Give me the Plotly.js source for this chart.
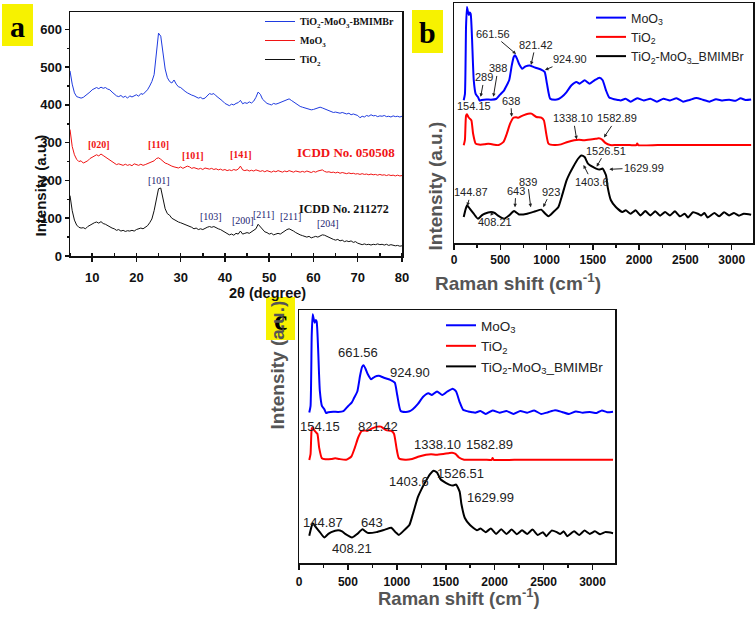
<!DOCTYPE html>
<html><head><meta charset="utf-8">
<script src="https://cdn.plot.ly/plotly-3.0.1.min.js"></script>
<style>html,body{margin:0;padding:0;background:#fff}#chart{width:756px;height:620px}</style>
</head><body><div id="chart"></div>
<script>
// ---------- Panel a : XRD ----------
const xrdTwoTheta = [
5,5.5,6,6.5,7,7.5,8,8.5,9,9.5,
10,10.5,11,11.5,12,12.5,13,13.5,14,14.5,
15,15.5,16,16.5,17,17.5,18,18.5,19,19.5,
20,20.5,21,21.5,22,22.5,23,23.5,24,24.5,
25,25.5,26,26.5,27,27.5,28,28.5,29,29.5,
30,30.5,31,31.5,32,32.5,33,33.5,34,34.5,
35,35.5,36,36.5,37,37.5,38,38.5,39,39.5,
40,40.5,41,41.5,42,42.5,43,43.5,44,44.5,
45,45.5,46,46.5,47,47.5,48,48.5,49,49.5,
50,50.5,51,51.5,52,52.5,53,53.5,54,54.5,
55,55.5,56,56.5,57,57.5,58,58.5,59,59.5,
60,60.5,61,61.5,62,62.5,63,63.5,64,64.5,
65,65.5,66,66.5,67,67.5,68,68.5,69,69.5,
70,70.5,71,71.5,72,72.5,73,73.5,74,74.5,
75,75.5,76,76.5,77,77.5,78,78.5,79,79.5,
80];
const xrdComposite = [
490,455,432,422,420,418,420,424,428,434,
440,444,446,443,447,444,446,442,440,434,
428,424,422,425,420,423,418,424,421,425,
427,423,430,428,434,440,450,462,480,530,
590,582,540,495,472,462,458,466,455,448,
446,440,436,432,428,426,424,421,418,420,
416,418,425,430,428,430,424,420,416,410,
404,400,398,402,400,404,406,412,403,406,
404,408,405,410,420,434,428,415,408,404,
402,400,404,402,404,406,408,412,414,416,
412,408,402,398,396,394,392,390,388,387,
388,390,392,394,392,390,386,384,383,380,
381,379,378,380,377,376,378,374,376,373,
372,366,370,368,372,370,374,371,372,369,
371,370,372,369,370,368,371,369,370,368,
370];
const xrdMoO3 = [
335,290,268,256,250,252,246,248,252,258,
262,266,268,265,270,266,262,258,252,248,
245,242,244,241,240,243,240,242,239,244,
241,240,243,240,242,244,246,248,252,258,
260,256,250,246,244,240,238,236,234,233,
236,232,235,238,236,232,234,231,230,232,
229,233,231,230,232,229,231,228,230,227,
229,226,228,226,229,227,230,238,228,226,
228,225,227,225,228,226,224,226,223,226,
224,222,225,223,226,224,222,225,223,226,
224,222,225,223,222,224,222,225,223,221,
224,222,225,226,228,224,222,223,221,222,
220,222,219,221,220,218,220,218,219,217,
218,216,218,216,217,215,217,215,216,214,
216,214,215,213,215,213,214,212,214,212,
213];
const xrdTiO2 = [
160,120,95,82,76,74,75,72,78,82,
85,88,90,87,91,86,84,80,76,74,
72,68,70,66,68,65,67,66,68,66,
70,72,74,72,76,80,88,98,120,150,
178,180,150,125,112,108,100,96,94,90,
88,86,82,80,78,76,72,74,70,72,
70,74,76,78,76,78,74,72,70,66,
62,58,56,58,55,60,58,66,58,60,
62,60,64,66,72,84,78,70,64,62,
58,60,56,58,60,58,62,68,70,72,
70,66,62,58,56,54,52,50,52,48,
50,52,50,54,56,55,52,48,46,44,
42,44,40,42,38,40,38,40,36,38,
34,32,30,32,30,31,29,31,30,32,
30,31,29,31,28,30,28,27,28,26,
27];
const xrdNames = ['TiO<sub>2</sub>-MoO<sub>3</sub>-BMIMBr','MoO<sub>3</sub>','TiO<sub>2</sub>'];
const moo3Planes = ['[020]','[110]','[101]','[141]'];
const moo3PlaneAngles = [11.5, 24.9, 32.8, 43.6];
const tio2Planes = ['[101]','[103]','[200]','[211]','[211]','[204]'];
const tio2PlaneAngles = [25.2, 36.8, 44.1, 48.6, 54.7, 63.3];
const moo3Card = 'ICDD No. 050508';
const tio2Card = 'ICDD No. 211272';

// ---------- Panels b and c : Raman ----------
const ramanMoO3Shift = [105,118,130,140,150,160,170,180,195,213,235,259,277,300,350,400,454,490,507,540,560,596,624,645,660,680,702,738,773,816,862,900,933,979,1004,1039,1092,1130,1163,1216,1269,1323,1358,1411,1465,1518,1571,1606,1642,1677,1730,1770,1801,1854,1908,1979,2050,2121,2192,2262,2333,2404,2475,2546,2617,2688,2759,2830,2901,2972,3043,3096,3149,3210];
const ramanMoO3Int = [59.5,62,90,98.3,96.5,95,96,95.5,85,68,62,60.8,59.3,59.6,59.8,59.7,60,61.5,62.2,63.5,65,67.8,74,77.5,78.2,76.8,74.7,72.6,73.6,74,73.3,72.8,72.4,71.3,66.4,60.1,59.7,60,60.8,62.9,65.7,67.1,66.4,67.8,66.4,67.8,68.9,67.8,63.6,60.6,59.9,59.6,59.4,60.1,58.9,60.3,59.4,60.1,58.9,60.1,59.4,60.3,58.9,59.6,60.4,59.7,58.9,59.9,59.4,59.7,59.3,60.3,59.6,59.8];
const ramanTiO2Shift = [105,118,130,140,155,170,188,206,234,270,330,370,412,482,535,571,606,642,670,695,748,801,837,890,943,971,996,1021,1085,1156,1227,1298,1350,1404,1475,1530,1564,1600,1635,1688,1750,1900,1970,1979,1990,2200,2500,2800,3210];
const ramanTiO2Int = [40.7,43,53,53.6,52.5,51.8,51.1,45.6,41.4,41,41.1,41.4,41.1,40.8,42.1,45.6,49.7,52.2,52.4,52.2,53.2,53.9,53.9,52.5,52.2,51.1,45.6,41.4,40.8,41.1,42.1,42.8,43,42.8,43.1,43.4,43.6,43.1,41.7,40.8,40.8,40.8,40.8,41.5,40.8,40.8,40.8,40.8,40.8];
const ramanCompShift = [105,125,142,170,213,259,300,330,400,440,472,543,596,649,702,791,879,943,986,1021,1074,1128,1163,1216,1250,1287,1340,1376,1411,1447,1500,1535,1571,1606,1642,1660,1695,1748,1819,1855,1908,1961,2014,2067,2121,2174,2227,2280,2333,2387,2440,2493,2528,2582,2635,2670,2706,2741,2812,2865,2918,2972,3025,3078,3130,3210];
const ramanCompInt = [10.8,14,15.7,14.3,12.2,10.1,11.5,12.2,12.9,12.5,11.5,10.1,11.5,13.3,11.9,12.2,13.2,13.9,12.2,11.1,12.9,15,19.2,26.1,29,31.7,35.1,36.5,35.8,33.1,31.7,31,30.6,31,28.2,23.3,17.8,15,12.9,13.6,12.2,13.6,11.5,13.3,11.5,13.2,11.4,12.9,11.5,13.2,11.1,12.2,10.6,12.8,12.2,11.5,12.5,10.6,12.5,11.1,12.8,11.5,12.5,11.4,12.2,11.8];
const ramanNames = ['MoO<sub>3</sub>','TiO<sub>2</sub>','TiO<sub>2</sub>-MoO<sub>3</sub>_BMIMBr'];
const ramanPeakLabelsB = ['661.56','821.42','924.90','289','388','154.15','638','1338.10','1582.89','1526.51','1629.99','1403.6','144.87','643','839','923','408.21'];
const ramanPeakLabelsC = ['661.56','924.90','154.15','821.42','1338.10','1582.89','1403.6','1526.51','1629.99','144.87','643','408.21'];

// ---------- layout helpers ----------
const W = 756, H = 620;
const fx = p => p / W, fy = p => 1 - p / H;
const SANS = 'Liberation Sans, Arial, sans-serif';
const SERIF = 'Liberation Serif, Times New Roman, serif';

const traces = [
  {x: xrdTwoTheta, y: xrdComposite, name: xrdNames[0], xaxis:'x', yaxis:'y', legend:'legend', mode:'lines', line:{color:'#1f3be0', width:1}},
  {x: xrdTwoTheta, y: xrdMoO3, name: xrdNames[1], xaxis:'x', yaxis:'y', legend:'legend', mode:'lines', line:{color:'#f01414', width:1}},
  {x: xrdTwoTheta, y: xrdTiO2, name: xrdNames[2], xaxis:'x', yaxis:'y', legend:'legend', mode:'lines', line:{color:'#111111', width:1}}
];
[['x2','y2','legend2'],['x3','y3','legend3']].forEach(([xa, ya, lg]) => {
  traces.push({x: ramanMoO3Shift, y: ramanMoO3Int, name: ramanNames[0], xaxis:xa, yaxis:ya, legend:lg, mode:'lines', line:{color:'#0000ff', width:2, shape:'spline', smoothing:0.5}});
  traces.push({x: ramanTiO2Shift, y: ramanTiO2Int, name: ramanNames[1], xaxis:xa, yaxis:ya, legend:lg, mode:'lines', line:{color:'#ff0000', width:2, shape:'spline', smoothing:0.5}});
  traces.push({x: ramanCompShift, y: ramanCompInt, name: ramanNames[2], xaxis:xa, yaxis:ya, legend:lg, mode:'lines', line:{color:'#000000', width:2, shape:'spline', smoothing:0.5}});
});

const boxAxis = {showline:true, mirror:true, linecolor:'#111', linewidth:1.5, showgrid:false, zeroline:false, tickcolor:'#111', tickwidth:1.5};

const layout = {
  width: W, height: H, margin:{l:0,r:0,t:0,b:0}, paper_bgcolor:'#fff', plot_bgcolor:'#fff',
  showlegend: true,
  xaxis: Object.assign({}, boxAxis, {domain:[fx(70), fx(402)], range:[5,80], anchor:'y', tick0:0, dtick:10, ticks:'outside', ticklen:4, ticklabelstandoff:5,
    tickfont:{family:SANS, size:13, weight:'bold', color:'#111'}, minor:{ticks:'inside', dtick:5, ticklen:3, tickcolor:'#111'}}),
  yaxis: Object.assign({}, boxAxis, {domain:[fy(256), fy(12)], range:[0,646], anchor:'x', dtick:100, ticks:'outside', ticklen:4,
    tickfont:{family:SANS, size:13, weight:'bold', color:'#111'}, minor:{ticks:'outside', dtick:50, ticklen:2, tickcolor:'#111'}}),
  xaxis2: Object.assign({}, boxAxis, {domain:[fx(454), fx(753)], range:[0,3230], anchor:'y2', dtick:500, ticks:'outside', ticklen:5,
    tickfont:{family:SANS, size:12, weight:'bold', color:'#111'}, minor:{ticks:'outside', dtick:250, ticklen:3, tickcolor:'#111'}}),
  yaxis2: Object.assign({}, boxAxis, {domain:[fy(243), fy(3)], range:[0,100], anchor:'x2', showticklabels:false, ticks:''}),
  xaxis3: Object.assign({}, boxAxis, {domain:[fx(299), fx(615)], range:[0,3230], anchor:'y3', dtick:500, ticks:'outside', ticklen:5, ticklabelstandoff:2,
    tickfont:{family:SANS, size:12, weight:'bold', color:'#111'}, minor:{ticks:'outside', dtick:250, ticklen:3, tickcolor:'#111'}}),
  yaxis3: Object.assign({}, boxAxis, {domain:[fy(563), fy(310)], range:[0,100], anchor:'x3', showticklabels:false, ticks:''}),
  legend: {x:fx(260), y:fy(7), xanchor:'left', yanchor:'top', bgcolor:'rgba(0,0,0,0)', font:{family:SERIF, size:10, weight:'bold', color:'#111'}, tracegroupgap:0},
  legend2: {x:fx(591), y:fy(3), xanchor:'left', yanchor:'top', bgcolor:'rgba(0,0,0,0)', font:{family:SANS, size:12.5, color:'#222'}},
  legend3: {x:fx(441), y:fy(310), xanchor:'left', yanchor:'top', bgcolor:'rgba(0,0,0,0)', font:{family:SANS, size:13.5, color:'#222'}},
  shapes: [], annotations: []
};

// panel letters on yellow
[['a',2,33,4,46],['b',412,443,10,53],['c',266,295,297,340]].forEach(([t,x0,x1,y0,y1]) => {
  layout.shapes.push({type:'rect', xref:'paper', yref:'paper', x0:fx(x0), x1:fx(x1), y0:fy(y1), y1:fy(y0), fillcolor:'#f7f200', line:{width:0}, layer:'below'});
  layout.annotations.push({xref:'paper', yref:'paper', x:fx((x0+x1)/2), y:fy((y0+y1)/2 + 1), text:'<b>'+t+'</b>', showarrow:false, xanchor:'center', yanchor:'middle', font:{family:SERIF, size:30, color:'#000'}});
});

// axis titles
const ann = layout.annotations;
ann.push({xref:'paper', yref:'paper', x:fx(227), y:fy(293), text:'2θ (degree)', showarrow:false, font:{family:SANS, size:14.5, weight:'bold', color:'#111'}});
ann.push({xref:'paper', yref:'paper', x:fx(30), y:fy(133), text:'Intensity (a.u.)', textangle:-90, showarrow:false, font:{family:SANS, size:15, weight:'bold', color:'#111'}});
ann.push({xref:'paper', yref:'paper', x:fx(603), y:fy(282), text:'Raman shift (cm<sup>-1</sup>)', showarrow:false, font:{family:SANS, size:19, weight:'bold', color:'#555'}});
ann.push({xref:'paper', yref:'paper', x:fx(435), y:fy(119), text:'Intensity (a.u.)', textangle:-90, showarrow:false, font:{family:SANS, size:19, weight:'bold', color:'#555'}});
ann.push({xref:'paper', yref:'paper', x:fx(459), y:fy(611), text:'Raman shift (cm<sup>-1</sup>)', showarrow:false, font:{family:SANS, size:18.5, weight:'bold', color:'#555'}});
ann.push({xref:'paper', yref:'paper', x:fx(277), y:fy(432), text:'Intensity (a.u.)', textangle:-90, showarrow:false, font:{family:SANS, size:19, weight:'bold', color:'#555'}});

// XRD plane labels
const moo3LabelY = [296, 296, 267, 270];
moo3Planes.forEach((t,i) => ann.push({xref:'x', yref:'y', x:moo3PlaneAngles[i], y:moo3LabelY[i], text:'<b>'+t+'</b>', showarrow:false, font:{family:SERIF, size:10, color:'#f01414'}}));
const tio2LabelY = [201, 104, 95, 110, 104, 85];
tio2Planes.forEach((t,i) => ann.push({xref:'x', yref:'y', x:tio2PlaneAngles[i], y:tio2LabelY[i], text:t, showarrow:false, font:{family:SERIF, size:10, color:'#1c2470'}}));
ann.push({xref:'x', yref:'y', x:78.8, y:275, xanchor:'right', text:'<b>'+moo3Card+'</b>', showarrow:false, font:{family:SERIF, size:13, color:'#f01414'}});
ann.push({xref:'x', yref:'y', x:77.5, y:124, xanchor:'right', text:'<b>'+tio2Card+'</b>', showarrow:false, font:{family:SERIF, size:12, color:'#111'}});

// Panel b peak labels: [arrow tip shift, tip intensity, text offset x px, text offset y px, has arrow]
const placeB = [[670,78.75,-23.5,-20,1],[832,74.2,4.5,-20,1],[983,72.1,25,-10.7,1],[288,60.9,3.6,-19.4,1],[425,60.9,4.7,-28.4,1],[216,57.1,0,0,0],[623,52.6,-0.9,-16,1],[1325,43.2,-3.4,-21,1],[1620,44,12.7,-19,1],[1541,31.8,9.1,-16,1],[1678,30.7,34.7,-1.6,1],[1399,32.5,8.4,16.7,1],[144,15.4,3.5,-13.7,1],[659,14.9,0.8,-16.6,1],[829,14.9,-3.2,-25.6,1],[964,14.9,7.5,-15.6,1],[397,13,4.3,10,1]];
ramanPeakLabelsB.forEach((t,i) => {
  const p = placeB[i];
  if (p[4]) {
    ann.push({xref:'x2', yref:'y2', x:p[0], y:p[1], ax:p[2], ay:p[3], axref:'pixel', ayref:'pixel', text:t, showarrow:true, arrowhead:2, arrowsize:0.7, arrowwidth:1, arrowcolor:'#222', standoff:0, font:{family:SANS, size:11, color:'#222'}});
  } else {
    ann.push({xref:'x2', yref:'y2', x:p[0], y:p[1], text:t, showarrow:false, font:{family:SANS, size:11, color:'#222'}});
  }
});

// Panel c peak labels
const posC = [[599,83.4],[1131,75.2],[215,54],[806,54],[1418,46.7],[1947,46.7],[1122,32.2],[1653,35.5],[1960,25.7],[242,16.1],[750,16.1],[539,5.6]];
ramanPeakLabelsC.forEach((t,i) => ann.push({xref:'x3', yref:'y3', x:posC[i][0], y:posC[i][1], text:t, showarrow:false, font:{family:SANS, size:13, color:'#222'}}));

Plotly.newPlot('chart', traces, layout, {staticPlot:true, displayModeBar:false});
</script>
</body></html>
